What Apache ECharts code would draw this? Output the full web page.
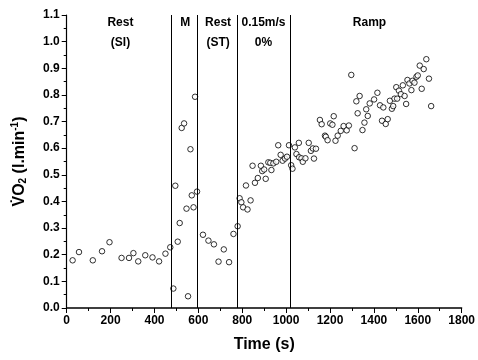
<!DOCTYPE html>
<html><head><meta charset="utf-8">
<script src="https://cdn.jsdelivr.net/npm/echarts@6/dist/echarts.min.js"></script>
<style>html,body{margin:0;padding:0;background:#fff}#c{width:478px;height:360px}</style>
</head><body><div id="c"></div>
<script>
// Phase data: [time (s), VO2 (l/min)]
const restSI = [[27,0.179],[56,0.21],[119,0.179],[161,0.213],[195,0.247],[250,0.188],[284,0.188],[304,0.206],[326,0.175],[358,0.198],[391,0.19],[421,0.175],[450,0.204],[472,0.228]];
const mPhase = [[486,0.073],[495,0.459],[506,0.249],[515,0.319],[524,0.676],[535,0.693],[546,0.373],[553,0.044],[564,0.596],[570,0.423],[578,0.378],[585,0.793],[594,0.437]];
const restST = [[621,0.275],[646,0.253],[671,0.239],[692,0.174],[716,0.22],[740,0.172],[760,0.278],[779,0.307]];
const walk015 = [[788,0.412],[796,0.397],[804,0.378],[817,0.46],[824,0.37],[838,0.404],[847,0.534],[858,0.47],[871,0.488],[885,0.534],[891,0.514],[900,0.52],[907,0.485],[919,0.547],[928,0.545],[933,0.518],[942,0.543],[955,0.549],[964,0.611],[975,0.575],[984,0.553],[995,0.561],[1004,0.568],[1013,0.611]];
const ramp = [[1023,0.536],[1029,0.523],[1040,0.603],[1047,0.578],[1058,0.62],[1059,0.566],[1070,0.562],[1076,0.549],[1088,0.562],[1103,0.62],[1113,0.59],[1122,0.599],[1127,0.561],[1136,0.598],[1154,0.706],[1162,0.69],[1177,0.647],[1181,0.643],[1189,0.63],[1201,0.693],[1211,0.688],[1217,0.72],[1225,0.628],[1235,0.647],[1249,0.665],[1262,0.683],[1276,0.667],[1286,0.685],[1297,0.875],[1312,0.6],[1320,0.776],[1326,0.731],[1335,0.796],[1348,0.668],[1357,0.696],[1365,0.746],[1372,0.721],[1381,0.768],[1401,0.783],[1416,0.808],[1428,0.761],[1437,0.703],[1443,0.753],[1454,0.691],[1463,0.709],[1473,0.778],[1482,0.748],[1488,0.758],[1494,0.786],[1502,0.829],[1506,0.786],[1514,0.816],[1523,0.803],[1532,0.836],[1540,0.796],[1547,0.766],[1553,0.856],[1562,0.843],[1571,0.818],[1576,0.853],[1585,0.846],[1594,0.868],[1600,0.873],[1609,0.91],[1618,0.823],[1627,0.897],[1639,0.934],[1651,0.861],[1661,0.758]];
const phaseBoundaries = [475, 597, 778, 1018];
const phaseLabels = ['Rest\n(SI)', 'M', 'Rest\n(ST)', '0.15m/s\n0%', 'Ramp'];
const phaseLabelTimes = [245, 540, 690, 897, 1380];
const xTicks = {min: 0, max: 1800, interval: 200};
const yTicks = {min: 0, max: 1.1, interval: 0.1};

const FONT = '"Liberation Sans", Arial, sans-serif';
const ptStyle = {color: '#fff', borderColor: '#000', borderWidth: 1};
function sc(name, data, extra) {
  return Object.assign({type: 'scatter', name, data, symbol: 'circle', symbolSize: 5.5, itemStyle: ptStyle, z: 3}, extra || {});
}
const chart = echarts.init(document.getElementById('c'), null, {renderer: 'canvas'});
chart.setOption({
  animation: false,
  backgroundColor: '#fff',
  grid: {left: 66.7, right: 12.7, top: 15, bottom: 52},
  xAxis: {
    type: 'value', min: xTicks.min, max: xTicks.max, interval: xTicks.interval,
    name: 'Time (s)', nameLocation: 'middle', nameGap: 29,
    nameTextStyle: {fontFamily: FONT, fontSize: 16, fontWeight: 'bold', color: '#000'},
    axisLine: {lineStyle: {color: '#000', width: 1.5}},
    axisTick: {inside: false, length: 5, lineStyle: {color: '#000', width: 1}},
    minorTick: {show: true, splitNumber: 2, length: 3, lineStyle: {color: '#000', width: 1}},
    axisLabel: {fontFamily: FONT, fontSize: 12, fontWeight: 'bold', color: '#000', margin: 7, formatter: v => String(v)},
    splitLine: {show: false}
  },
  yAxis: {
    type: 'value', min: yTicks.min, max: yTicks.max, interval: yTicks.interval,
    name: '{a|V\u0307O}{s|2}{a| (l.min}{u|-1}{a|)}', nameLocation: 'middle', nameGap: 38, nameRotate: 90,
    nameTextStyle: {fontFamily: FONT, fontSize: 16, color: '#000',
      rich: {a: {fontFamily: FONT, fontSize: 16, fontWeight: 'bold', color: '#000'},
             s: {fontFamily: FONT, fontSize: 10, fontWeight: 'bold', color: '#000', verticalAlign: 'bottom', padding: [8, 0, 0, 0]},
             u: {fontFamily: FONT, fontSize: 10, fontWeight: 'bold', color: '#000', verticalAlign: 'top', padding: [0, 0, 8, 0]}}},
    axisLine: {show: true, lineStyle: {color: '#000', width: 1.2}},
    axisTick: {inside: false, length: 5, lineStyle: {color: '#000', width: 1}},
    minorTick: {show: true, splitNumber: 2, length: 3, lineStyle: {color: '#000', width: 1}},
    axisLabel: {fontFamily: FONT, fontSize: 12, fontWeight: 'bold', color: '#000', margin: 7, formatter: v => v.toFixed(1)},
    splitLine: {show: false}
  },
  series: [
    sc('Rest SI', restSI, {
      markLine: {silent: true, symbol: ['none', 'none'], label: {show: false},
        lineStyle: {color: '#000', width: 1, type: 'solid'},
        data: phaseBoundaries.map(t => ({xAxis: t}))}
    }),
    sc('M', mPhase), sc('Rest ST', restST), sc('0.15', walk015), sc('Ramp', ramp)
  ]
});
const yLabel = 1.07;
chart.setOption({
  graphic: phaseLabels.map((txt, i) => {
    const p = chart.convertToPixel({gridIndex: 0}, [phaseLabelTimes[i], yLabel]);
    return {type: 'text', x: p[0], y: p[1] - 10, z: 10,
      style: {text: txt, fontFamily: FONT, fontSize: 12, fontWeight: 'bold', fill: '#000', align: 'center', verticalAlign: 'top', lineHeight: 20}};
  })
});
</script></body></html>
